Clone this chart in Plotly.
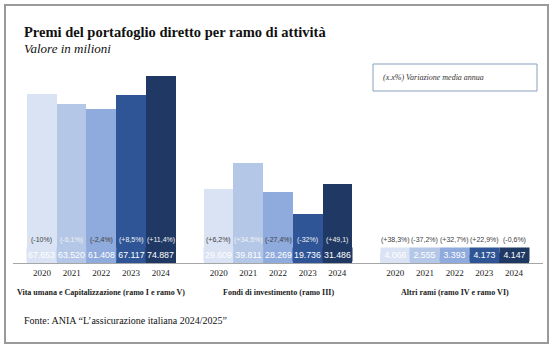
import plotly.graph_objects as go

groups = ["Vita umana e Capitalizzazione (ramo I e ramo V)",
          "Fondi di investimento (ramo III)",
          "Altri rami (ramo IV e ramo VI)"]
years = ["2020", "2021", "2022", "2023", "2024"]
values = {
    "2020": [67653, 29609, 4066],
    "2021": [63520, 39811, 2555],
    "2022": [61408, 28269, 3393],
    "2023": [67117, 19736, 4173],
    "2024": [74887, 31486, 4147],
}
pct_labels = {
    "2020": ["(-10%)", "(+6,2%)", "(+38,3%)"],
    "2021": ["(-6,1%)", "(+34,5%)", "(-37,2%)"],
    "2022": ["(-2,4%)", "(-27,4%)", "(+32,7%)"],
    "2023": ["(+8,5%)", "(-32%)", "(+22,9%)"],
    "2024": ["(+11,4%)", "(+49,1)", "(-0,6%)"],
}
colors = ["#dae3f3", "#b4c7e7", "#8faadc", "#2f5597", "#1f3864"]
pct_inside_colors = ["#404040", "#f2f2f2", "#404040", "#f2f2f2", "#f2f2f2"]

W, H = 556, 351
L, R, T, B = 13, 13, 63, 88
BW = 0.168

fig = go.Figure()
tickvals, ticktext = [], []
annotations = []
for i, y in enumerate(years):
    xs = [g + (i - 2) * BW for g in range(len(groups))]
    fig.add_trace(go.Bar(x=xs, y=values[y], width=BW, marker_color=colors[i],
                         marker_line_width=0, name=y, showlegend=False))
    for g, x in enumerate(xs):
        tickvals.append(x)
        ticktext.append(y)
        v = values[y][g]
        txt = f"{v:,}".replace(",", ".")
        annotations.append(dict(x=x, y=3600, xref="x", yref="y", text=txt,
                                showarrow=False, bgcolor=colors[i], width=27, height=11,
                                font=dict(family="Liberation Sans, sans-serif",
                                          size=8.8, color="white")))
        inside = v > 12000
        pc = pct_inside_colors[i] if inside else "#404040"
        annotations.append(dict(x=x, y=9200, xref="x", yref="y", text=pct_labels[y][g],
                                showarrow=False,
                                font=dict(family="Liberation Sans, sans-serif",
                                          size=7, color=pc)))

for g, name in enumerate(groups):
    annotations.append(dict(x=g, y=(263 - 292) / 200, xref="x", yref="paper",
                            xanchor="center", yanchor="middle", text="<b>" + name + "</b>",
                            showarrow=False,
                            font=dict(family="Liberation Serif, serif", size=8, color="#222")))

def px(xp):
    return (xp - L) / (W - L - R)

def py(yp):
    return (H - B - yp) / (H - T - B)

annotations += [
    dict(x=px(22), y=py(32), xref="paper", yref="paper", xanchor="left", yanchor="middle",
         text="<b>Premi del portafoglio diretto per ramo di attività</b>", showarrow=False,
         font=dict(family="Liberation Serif, serif", size=14.5, color="#111")),
    dict(x=px(22), y=py(49), xref="paper", yref="paper", xanchor="left", yanchor="middle",
         text="<i>Valore in milioni</i>", showarrow=False,
         font=dict(family="Liberation Serif, serif", size=13, color="#111")),
    dict(x=px(22), y=py(320), xref="paper", yref="paper", xanchor="left", yanchor="middle",
         text="Fonte: ANIA “L’assicurazione italiana 2024/2025”", showarrow=False,
         font=dict(family="Liberation Serif, serif", size=10, color="#111")),
    dict(x=px(381), y=py(77.5), xref="paper", yref="paper", xanchor="left", yanchor="middle",
         text="<i>(x.x%) Variazione media annua</i>", showarrow=False,
         font=dict(family="Liberation Serif, serif", size=8, color="#333")),
]

shapes = [
    dict(type="rect", xref="paper", yref="paper", x0=px(5), x1=px(548), y0=py(343), y1=py(5),
         line=dict(color="#9a9a9a", width=2)),
    dict(type="rect", xref="paper", yref="paper", x0=px(373), x1=px(537), y0=py(91), y1=py(64),
         line=dict(color="#8aa0be", width=1)),
]

fig.update_layout(
    width=W, height=H, margin=dict(l=L, r=R, t=T, b=B),
    paper_bgcolor="white", plot_bgcolor="white",
    barmode="overlay", bargap=0,
    xaxis=dict(range=[-0.5, 2.5], tickvals=tickvals, ticktext=ticktext, ticks="",
               showgrid=False, zeroline=False, showline=True, linecolor="#a6a6a6", linewidth=1,
               tickfont=dict(family="Liberation Serif, serif", size=9, color="#222"),
               ticklabelstandoff=1),
    yaxis=dict(range=[0, 80000], visible=False, showgrid=False, zeroline=False),
    annotations=annotations, shapes=shapes,
)

fig.write_html("out.html")
